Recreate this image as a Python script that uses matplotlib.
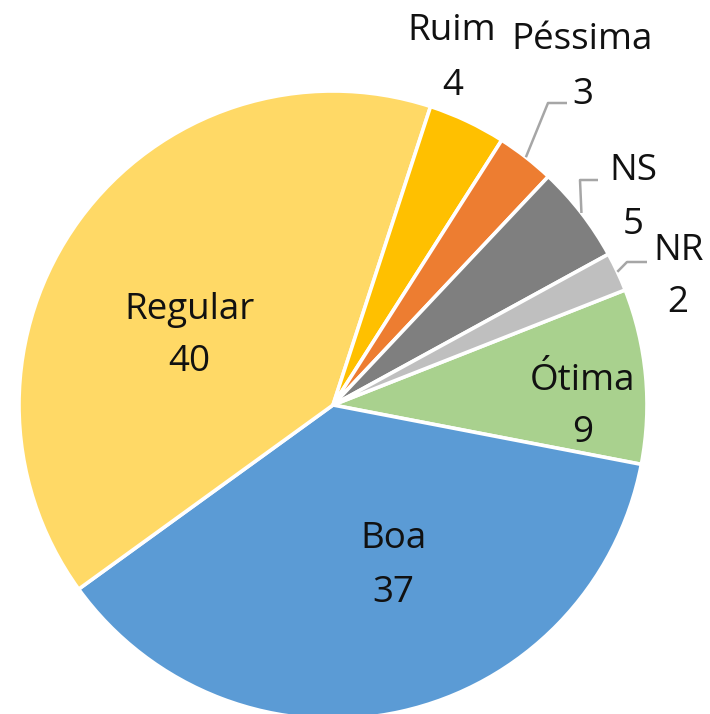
import numpy as np
import matplotlib
matplotlib.use("Agg")
import matplotlib.pyplot as plt

plt.rcParams['font.family'] = ['Open Sans', 'DejaVu Sans']

# data
categories = ["Ótima", "Boa", "Regular", "Ruim", "Péssima", "NS", "NR"]
values = [9, 37, 40, 4, 3, 5, 2]
colors = ["#A9D18E", "#5B9BD5", "#FFD966", "#FFC000", "#ED7D31", "#7F7F7F", "#BFBFBF"]

# layout (pixels in a 710x714 canvas)
W, H = 710, 714
CX, CY, R = 333, 405, 314
# name centre (x, y) and value centre (x, y) for each label
label_pos = {
    "Ótima": ((583, 377), (583, 429)),
    "Boa": ((393, 535), (393, 589)),
    "Regular": ((190, 306), (189, 358)),
    "Ruim": ((452, 27), (453, 82)),
    "Péssima": ((582, 36), (583, 91)),
    "NS": ((633, 167), (633, 221)),
    "NR": ((679, 247), (678, 299)),
}
# elbow and end of leader lines
leaders = {
    "Péssima": ((548, 103), (567, 103)),
    "NS": ((580, 180), (598, 180)),
    "NR": ((627, 262), (647, 262)),
}


def px(x, y):
    """pixel -> data coords (pie radius = 1)"""
    return (x - CX) / R, (CY - y) / R


fig = plt.figure(figsize=(W / 100, H / 100), dpi=100)
ax = fig.add_axes([0, 0, 1, 1])

wedges, _ = ax.pie(values, colors=colors, startangle=21.5, counterclock=False,
                   radius=1, center=(0, 0),
                   wedgeprops=dict(edgecolor="white", linewidth=2.6))

ax.set_xlim(px(0, 0)[0], px(W, 0)[0])
ax.set_ylim(px(0, H)[1], px(0, 0)[1])
ax.set_aspect("equal")
ax.axis("off")

txt_color = "#111111"
fs = 26.5
cap_half = 13  # half cap height in pixels

for name, val in zip(categories, values):
    (nx, ny), (vx, vy) = label_pos[name]
    ax.text(*px(nx, ny + cap_half), name, ha="center", va="baseline",
            fontsize=fs, color=txt_color)
    ax.text(*px(vx, vy + cap_half), str(val), ha="center", va="baseline",
            fontsize=fs, color=txt_color)

for w, name in zip(wedges, categories):
    if name not in leaders:
        continue
    mid = np.deg2rad((w.theta1 + w.theta2) / 2)
    start = (np.cos(mid), np.sin(mid))
    elbow = px(*leaders[name][0])
    end = px(*leaders[name][1])
    ax.plot([start[0], elbow[0], end[0]], [start[1], elbow[1], end[1]],
            color="#A6A6A6", linewidth=1.8, solid_capstyle="butt")

fig.savefig("out.png", dpi=100)
